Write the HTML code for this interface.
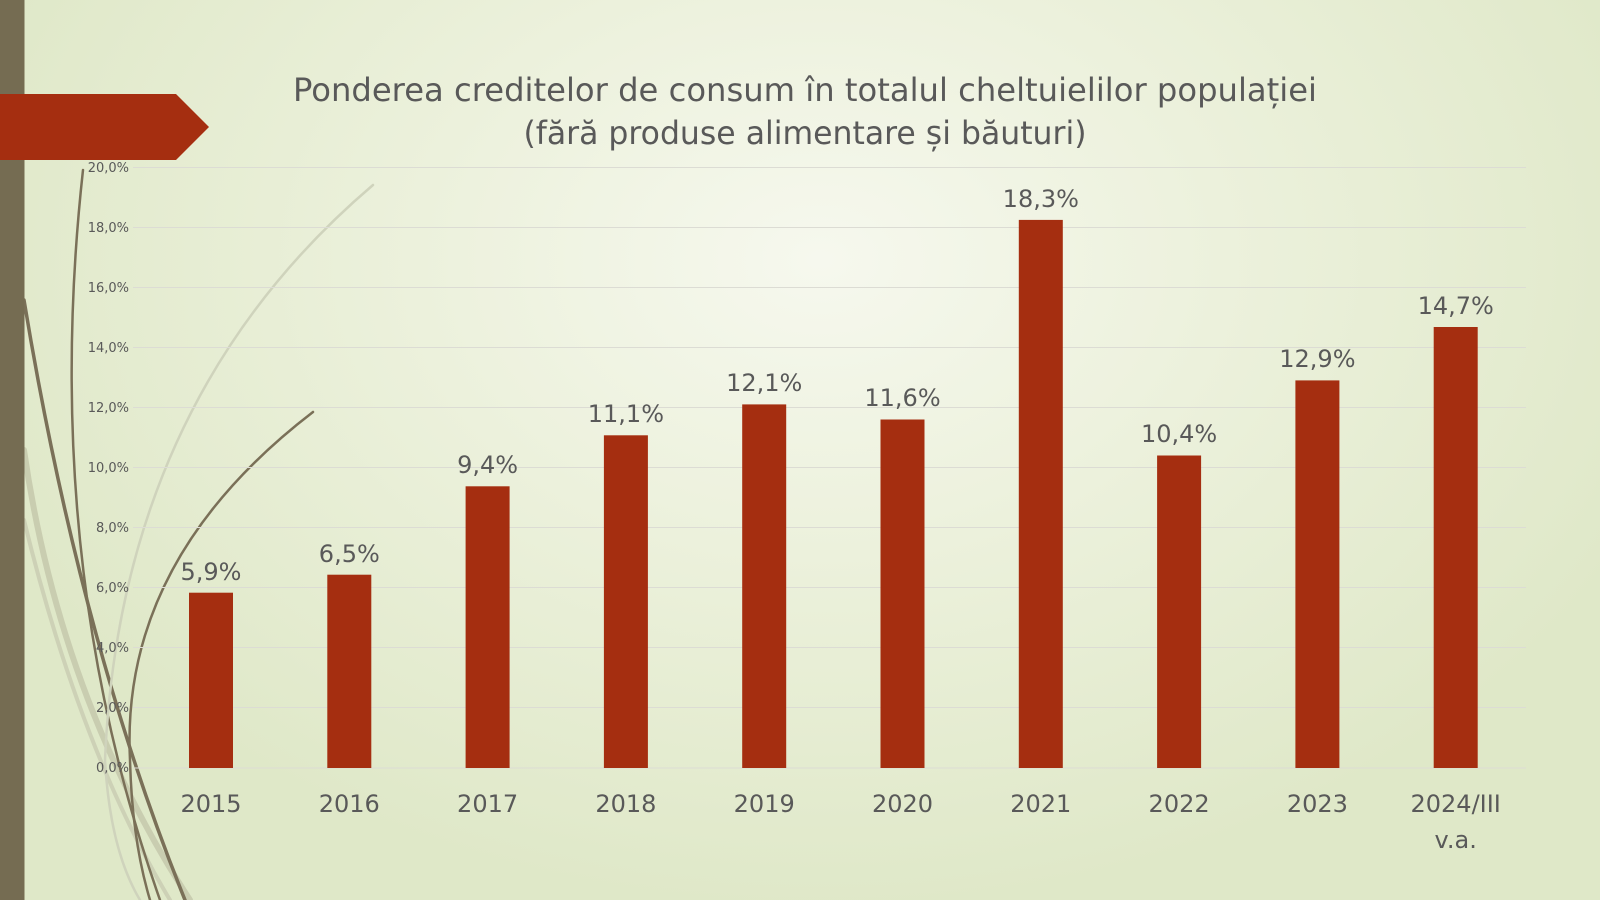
<!DOCTYPE html>
<html><head><meta charset="utf-8"><style>
html,body{margin:0;padding:0;width:1600px;height:900px;overflow:hidden}
body{background:radial-gradient(ellipse 900px 650px at 820px 260px,#f6f8ee 0%,#ecf1dc 45%,#dfe8c8 100%)}
svg{position:absolute;left:0;top:0}
text{font-family:"DejaVu Sans","Liberation Sans",sans-serif;fill:#595959}
</style></head><body>
<svg width="1600" height="900" viewBox="0 0 1600 900">
<g fill="none" stroke-linecap="round">
<path d="M24 450 Q60 700 190 900" stroke="#c9cdb0" stroke-width="6"/>
<path d="M24 520 Q80 750 170 900" stroke="#cdd1b6" stroke-width="4"/>
<path d="M24 300 Q80 640 185 900" stroke="#7a7058" stroke-width="3.5"/>
<path d="M83 170 Q40 560 160 900" stroke="#7a7058" stroke-width="2.5"/>
<path d="M373 185 Q120 400 105 760 Q110 850 140 900" stroke="#cfd3bc" stroke-width="2.5"/>
<path d="M313 412 Q120 560 130 760 Q132 840 150 900" stroke="#7a7058" stroke-width="2.5"/>
</g>
<rect x="0" y="0" width="24.5" height="900" fill="#756c52"/>
<polygon points="0,94 176,94 209,127 176,160 0,160" fill="#a52e10"/>
<text x="805" y="101" font-size="32" text-anchor="middle" textLength="1024" lengthAdjust="spacingAndGlyphs">Ponderea creditelor de consum în totalul cheltuielilor populației</text>
<text x="805" y="144" font-size="32" text-anchor="middle" textLength="563" lengthAdjust="spacingAndGlyphs">(fără produse alimentare și băuturi)</text>
<g stroke="#dcdcd4" stroke-width="1">
<line x1="133" y1="167.5" x2="1526" y2="167.5"/><line x1="133" y1="227.5" x2="1526" y2="227.5"/>
<line x1="133" y1="287.5" x2="1526" y2="287.5"/><line x1="133" y1="347.5" x2="1526" y2="347.5"/>
<line x1="133" y1="407.5" x2="1526" y2="407.5"/><line x1="133" y1="467.5" x2="1526" y2="467.5"/>
<line x1="133" y1="527.5" x2="1526" y2="527.5"/><line x1="133" y1="587.5" x2="1526" y2="587.5"/>
<line x1="133" y1="647.5" x2="1526" y2="647.5"/><line x1="133" y1="707.5" x2="1526" y2="707.5"/>
<line x1="133" y1="768" x2="1526" y2="768"/>
</g>
<g font-size="13" text-anchor="end">
<text x="129" y="172">20,0%</text><text x="129" y="232">18,0%</text><text x="129" y="292">16,0%</text>
<text x="129" y="352">14,0%</text><text x="129" y="412">12,0%</text><text x="129" y="472">10,0%</text>
<text x="129" y="532">8,0%</text><text x="129" y="592">6,0%</text><text x="129" y="652">4,0%</text>
<text x="129" y="712">2,0%</text><text x="129" y="772">0,0%</text>
</g>
<g fill="#a52e10">
<rect x="189" y="592.7" width="44" height="175.3"/>
<rect x="327.3" y="574.7" width="44" height="193.3"/>
<rect x="465.6" y="486.3" width="44" height="281.7"/>
<rect x="603.9" y="435.3" width="44" height="332.7"/>
<rect x="742.2" y="404.4" width="44" height="363.6"/>
<rect x="880.5" y="419.5" width="44" height="348.5"/>
<rect x="1018.8" y="219.9" width="44" height="548.1"/>
<rect x="1157.1" y="455.5" width="44" height="312.5"/>
<rect x="1295.4" y="380.4" width="44" height="387.6"/>
<rect x="1433.7" y="327" width="44" height="441"/>
</g>
<g font-size="24" text-anchor="middle">
<text x="211" y="580">5,9%</text><text x="349.3" y="562">6,5%</text><text x="487.6" y="473">9,4%</text>
<text x="625.9" y="422">11,1%</text><text x="764.2" y="391">12,1%</text><text x="902.5" y="406">11,6%</text>
<text x="1040.8" y="207">18,3%</text><text x="1179.1" y="442">10,4%</text><text x="1317.4" y="367">12,9%</text>
<text x="1455.7" y="314">14,7%</text>
<text x="211" y="812">2015</text><text x="349.3" y="812">2016</text><text x="487.6" y="812">2017</text>
<text x="625.9" y="812">2018</text><text x="764.2" y="812">2019</text><text x="902.5" y="812">2020</text>
<text x="1040.8" y="812">2021</text><text x="1179.1" y="812">2022</text><text x="1317.4" y="812">2023</text>
<text x="1455.7" y="812">2024/III</text><text x="1455.7" y="848">v.a.</text>
</g>
</svg>
</body></html>
